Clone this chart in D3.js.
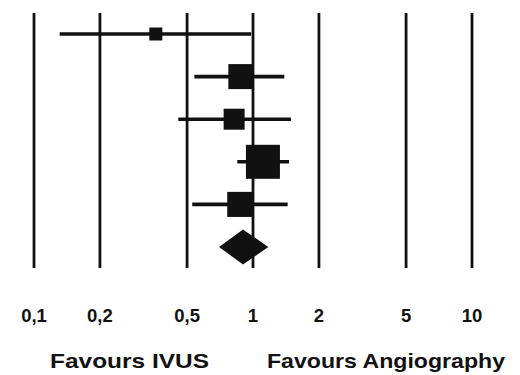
<!DOCTYPE html>
<html>
<head>
<meta charset="utf-8">
<script src="https://cdn.jsdelivr.net/npm/d3@7"></script>
<style>
  body { margin: 0; background: #fff; }
  text { font-family: "Liberation Sans", Arial, sans-serif; font-weight: bold; fill: #111; }
</style>
</head>
<body>
<div id="chart"></div>
<script>
(function(){

  var width = 520, height = 375;

  // odds ratios and confidence intervals
  var estimates = [0.36, 0.88, 0.82, 1.11, 0.87];
  var lower     = [0.131, 0.54, 0.456, 0.848, 0.528];
  var upper     = [0.98, 1.39, 1.49, 1.46, 1.44];
  var weights   = [5.6, 20.7, 14.6, 38.3, 20.8];

  // pooled estimate (diamond)
  var pooled = [0.90, 0.70, 1.175];

  var tickValues = [0.1, 0.2, 0.5, 1, 2, 5, 10];
  var tickLabels = ["0,1", "0,2", "0,5", "1", "2", "5", "10"];

  var sideLabels = ["Favours IVUS", "Favours Angiography"];

  var svg = d3.select("#chart").append("svg")
    .attr("width", width)
    .attr("height", height);

  // log scale for the odds ratio
  var x = d3.scaleLog()
    .domain([0.1, 10])
    .range([34, 472]);

  // one row per study plus the pooled row
  var y = d3.scaleLinear()
    .domain([0, estimates.length])
    .range([34, 247]);

  // square size from weight
  var size = d3.scaleSqrt()
    .domain([0, d3.max(weights)])
    .range([0, 34]);

  // vertical reference lines
  svg.selectAll(".grid")
    .data(tickValues)
    .enter().append("line")
    .attr("class", "grid")
    .attr("x1", function(d){ return x(d); })
    .attr("x2", function(d){ return x(d); })
    .attr("y1", 13)
    .attr("y2", 268)
    .attr("stroke", "#111")
    .attr("stroke-width", 2.8);

  var rows = estimates.map(function(d, i){
    return {est: d, lo: lower[i], hi: upper[i], w: weights[i], i: i};
  });

  // confidence intervals
  svg.selectAll(".ci")
    .data(rows)
    .enter().append("line")
    .attr("class", "ci")
    .attr("x1", function(d){ return x(d.lo); })
    .attr("x2", function(d){ return x(d.hi); })
    .attr("y1", function(d){ return y(d.i); })
    .attr("y2", function(d){ return y(d.i); })
    .attr("stroke", "#111")
    .attr("stroke-width", 3.6);

  // point estimates
  svg.selectAll(".box")
    .data(rows)
    .enter().append("rect")
    .attr("class", "box")
    .attr("x", function(d){ return x(d.est) - size(d.w) / 2; })
    .attr("y", function(d){ return y(d.i) - size(d.w) / 2; })
    .attr("width", function(d){ return size(d.w); })
    .attr("height", function(d){ return size(d.w); })
    .attr("fill", "#111");

  // pooled diamond
  var py = y(estimates.length);
  svg.append("path")
    .attr("d", "M" + x(pooled[1]) + "," + py +
               "L" + x(pooled[0]) + "," + (py - 17.5) +
               "L" + x(pooled[2]) + "," + py +
               "L" + x(pooled[0]) + "," + (py + 17.5) + "Z")
    .attr("fill", "#111");

  // tick labels
  svg.selectAll(".tick-label")
    .data(tickValues)
    .enter().append("text")
    .attr("class", "tick-label")
    .attr("x", function(d){ return x(d); })
    .attr("y", 322)
    .attr("text-anchor", "middle")
    .style("font-size", "18.5px")
    .text(function(d, i){ return tickLabels[i]; });

  // favours labels
  svg.append("text")
    .attr("x", 50)
    .attr("y", 368)
    .attr("textLength", 159)
    .attr("lengthAdjust", "spacingAndGlyphs")
    .style("font-size", "21px")
    .text(sideLabels[0]);

  svg.append("text")
    .attr("x", 267)
    .attr("y", 368)
    .attr("textLength", 238)
    .attr("lengthAdjust", "spacingAndGlyphs")
    .style("font-size", "21px")
    .text(sideLabels[1]);

})();
</script>
</body>
</html>
